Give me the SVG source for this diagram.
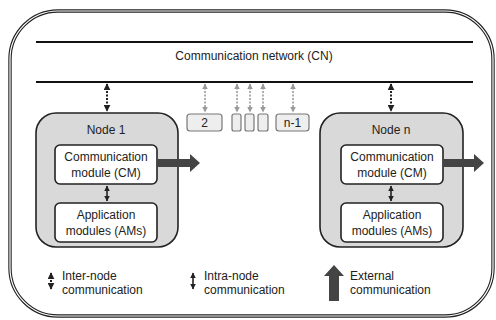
<svg xmlns="http://www.w3.org/2000/svg" width="496" height="320" viewBox="0 0 496 320">
<style>
text{font-family:"Liberation Sans",Arial,sans-serif;font-size:12px;fill:#222}
.c{text-anchor:middle}
.node{fill:#d9d9d9;stroke:#222;stroke-width:1.6}
.mod{fill:#fff;stroke:#222;stroke-width:1.6}
.sb{fill:#eee;stroke:#777;stroke-width:1.2}
.inter{stroke:#222;stroke-width:2;stroke-dasharray:2 1.5;fill:none}
.intra{stroke:#222;stroke-width:1.6;fill:none}
.g{stroke:#999;stroke-width:1.6;stroke-dasharray:2 1.5;fill:none}
.ext{fill:#444}
</style>
<defs>
<marker id="ab" viewBox="0 0 10 10" refX="9" refY="5" markerWidth="3.5" markerHeight="3.5" orient="auto-start-reverse" markerUnits="strokeWidth"><path d="M0,0L10,5L0,10z" fill="#222"/></marker>
<marker id="ag" viewBox="0 0 10 10" refX="9" refY="5" markerWidth="3.5" markerHeight="3.5" orient="auto-start-reverse" markerUnits="strokeWidth"><path d="M0,0L10,5L0,10z" fill="#999"/></marker>
</defs>
<rect width="496" height="320" fill="#fff"/>
<g id="frame">
<rect x="10" y="11" width="483" height="305" rx="48" fill="none" stroke="#222" stroke-width="3.4"/>
<rect x="10" y="11" width="483" height="305" rx="48" fill="none" stroke="#fff" stroke-width="1.2"/>
</g>
<g id="network">
<line x1="36" y1="42" x2="473" y2="42" stroke="#111" stroke-width="2"/>
<line x1="36" y1="82" x2="473" y2="82" stroke="#111" stroke-width="2"/>
<text class="c" x="254" y="60">Communication network (CN)</text>
</g>
<g id="node1">
<rect class="node" x="36" y="113" width="142" height="134" rx="20"/>
<text class="c" x="106" y="134">Node 1</text>
<g id="cm1"><rect class="mod" x="55" y="145" width="102" height="39" rx="5"/>
<text class="c" x="106" y="161">Communication</text><text class="c" x="106" y="177">module (CM)</text></g>
<g id="am1"><rect class="mod" x="55" y="203" width="102" height="39" rx="5"/>
<text class="c" x="106" y="219">Application</text><text class="c" x="106" y="235">modules (AMs)</text></g>
</g>
<g id="noden">
<rect class="node" x="320" y="113" width="143" height="134" rx="20"/>
<text class="c" x="391" y="134">Node n</text>
<g id="cmn"><rect class="mod" x="341" y="145" width="102" height="39" rx="5"/>
<text class="c" x="392" y="161">Communication</text><text class="c" x="392" y="177">module (CM)</text></g>
<g id="amn"><rect class="mod" x="341" y="203" width="102" height="39" rx="5"/>
<text class="c" x="392" y="219">Application</text><text class="c" x="392" y="235">modules (AMs)</text></g>
</g>
<g id="node2"><rect class="sb" x="187" y="114" width="35" height="17" rx="3"/><text class="c" x="204.5" y="127">2</text></g>
<g id="nodek1"><rect class="sb" x="232" y="114" width="9" height="17" rx="2"/></g>
<g id="nodek2"><rect class="sb" x="245" y="114" width="9" height="17" rx="2"/></g>
<g id="nodek3"><rect class="sb" x="258" y="114" width="10" height="17" rx="2"/></g>
<g id="noden1"><rect class="sb" x="276" y="114" width="33" height="17" rx="3"/><text class="c" x="292.5" y="127">n-1</text></g>
<g id="connectors">
<line class="inter" x1="107" y1="84" x2="107" y2="111" marker-start="url(#ab)" marker-end="url(#ab)"/>
<line class="inter" x1="391" y1="84" x2="391" y2="111" marker-start="url(#ab)" marker-end="url(#ab)"/>
<line class="intra" x1="107" y1="186" x2="107" y2="201" marker-start="url(#ab)" marker-end="url(#ab)"/>
<line class="intra" x1="391" y1="186" x2="391" y2="201" marker-start="url(#ab)" marker-end="url(#ab)"/>
<line class="g" x1="205" y1="84" x2="205" y2="112" marker-start="url(#ag)" marker-end="url(#ag)"/>
<line class="g" x1="237" y1="84" x2="237" y2="112" marker-start="url(#ag)" marker-end="url(#ag)"/>
<line class="g" x1="250" y1="84" x2="250" y2="112" marker-start="url(#ag)" marker-end="url(#ag)"/>
<line class="g" x1="263" y1="84" x2="263" y2="112" marker-start="url(#ag)" marker-end="url(#ag)"/>
<line class="g" x1="293" y1="84" x2="293" y2="112" marker-start="url(#ag)" marker-end="url(#ag)"/>
<path class="ext" d="M157,159H190V154L200,163L190,172V167H157z"/>
<path class="ext" d="M443,159H474V154L484,163L474,172V167H443z"/>
</g>
<g id="legend">
<line class="inter" x1="51" y1="273" x2="51" y2="289" marker-start="url(#ab)" marker-end="url(#ab)"/>
<text x="62" y="280">Inter-node</text><text x="62" y="294">communication</text>
<line class="intra" x1="193" y1="273" x2="193" y2="289" marker-start="url(#ab)" marker-end="url(#ab)"/>
<text x="204" y="280">Intra-node</text><text x="204" y="294">communication</text>
<path class="ext" d="M329,301V276H324L334,265L344,276H339V301z"/>
<text x="350" y="280">External</text><text x="350" y="294">communication</text>
</g>
</svg>
